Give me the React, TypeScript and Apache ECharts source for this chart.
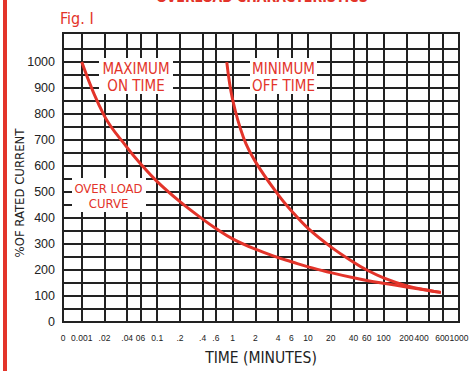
import React, { useEffect, useRef } from "react";
import * as echarts from "echarts";

// ---- data ----
const xTickTimes = [0.01, 0.02, 0.04, 0.06, 0.1, 0.2, 0.4, 0.6, 1, 2, 4, 6, 10, 20, 40, 60, 100, 200, 400, 600, 1000];
const xTickLabels = ["0.001", ".02", ".04", "06", "0.1", ".2", ".4", ".6", "1", "2", "4", "6", "10", "20", "40", "60", "100", "200", "400", "600", "1000"];
// where each tick label sits along the axis (the "400" label is set a little left of its line in the reference)
const xLabelTimes = [0.01, 0.02, 0.04, 0.06, 0.1, 0.2, 0.4, 0.6, 1, 2, 4, 6, 10, 20, 40, 60, 100, 200, 320, 600, 1000];
const xOriginLabel = "0";
const xOriginTime = 0.00564;
const yTop = 1112;
const yGridValues = [0, 50, 100, 150, 200, 250, 300, 350, 400, 450, 500, 550, 600, 650, 700, 750, 800, 850, 900, 950, 1000, 1050];
const yLabelValues = [0, 100, 200, 300, 400, 500, 600, 700, 800, 900, 1000];

const overloadTime = [0.01, 0.02, 0.04, 0.06, 0.1, 0.2, 0.4, 0.6, 1, 2, 4, 6, 10, 20, 40, 60, 100, 200, 400, 575];
const overloadPct = [1000, 792, 671, 609, 540, 463, 396, 360, 320, 280, 248, 232, 212, 190, 170, 160, 149, 135, 121, 114];

const offTime = [0.836, 1, 1.39, 2, 4, 6, 10, 20, 40, 60, 100, 200, 400, 575];
const offPct = [1000, 855, 710, 617, 490, 428, 360, 289, 230, 200, 170, 140, 121, 114];

const RED = "#e3342a";
const INK = "#222";
const CAPS = "'DejaVu Sans Condensed', 'DejaVu Sans', sans-serif";
const DIGITS = "'Liberation Sans', Arial, sans-serif";

const lg = (t: number) => Math.log10(t);

export default function App() {
  const ref = useRef<HTMLDivElement>(null);
  useEffect(() => {
    if (!ref.current) return;
    const chart = echarts.init(ref.current, undefined, { renderer: "svg" });
    const xMin = lg(xOriginTime);
    const xMax = lg(1000);
    const xGrid = [xMin, ...xTickTimes.map(lg)];
    const xLabPos = [xMin, ...xLabelTimes.map(lg)];
    const xLabAll = [xOriginLabel, ...xTickLabels];
    const fmtX = (v: number) => {
      for (let i = 0; i < xLabPos.length; i++)
        if (Math.abs(xLabPos[i] - v) < 1e-6) return xLabAll[i];
      return "";
    };
    const curve = (ts: number[], ps: number[]) => ts.map((t, i) => [lg(t), ps[i]]);
    const labelBox = (x: number, y: number, w: number, h: number) => ({
      type: "rect", z: 10, shape: { x, y, width: w, height: h }, style: { fill: "#fff" },
    });
    const label = (text: string, x: number, y: number, size: number) => ({
      type: "text", x, y, z: 11,
      style: { text, fill: RED, font: `${size}px ${CAPS}`, align: "center", verticalAlign: "middle" },
    });
    chart.setOption({
      animation: false,
      backgroundColor: "#fff",
      grid: {
        left: 63, right: 13, top: 33, bottom: 46,
        show: true, borderColor: INK, borderWidth: 2, backgroundColor: "transparent",
      },
      xAxis: {
        type: "value",
        min: xMin,
        max: xMax,
        axisLine: { show: true, lineStyle: { color: INK, width: 2 } },
        axisTick: { show: false, customValues: xGrid },
        splitLine: { show: true, lineStyle: { color: INK, width: 2 } },
        axisLabel: {
          customValues: xLabPos,
          formatter: fmtX,
          fontFamily: DIGITS,
          fontSize: 8.5,
          color: INK,
          margin: 11,
          showMinLabel: true,
          showMaxLabel: true,
        },
        name: "TIME (MINUTES)",
        nameLocation: "middle",
        nameGap: 28,
        nameTextStyle: { fontFamily: CAPS, fontSize: 15.5, color: INK },
      },
      yAxis: {
        type: "value",
        min: 0,
        max: yTop,
        axisLine: { show: true, lineStyle: { color: INK, width: 2 } },
        axisTick: { show: false, customValues: [...yGridValues, yTop] },
        splitLine: { show: true, lineStyle: { color: INK, width: 2 } },
        axisLabel: {
          customValues: yLabelValues,
          formatter: (v: number) => String(v),
          fontFamily: DIGITS,
          fontSize: 12.5,
          color: INK,
          margin: 8,
        },
      },
      series: [
        {
          type: "line",
          data: curve(overloadTime, overloadPct),
          smooth: 0.4,
          showSymbol: false,
          lineStyle: { color: RED, width: 3 },
          z: 5,
        },
        {
          type: "line",
          data: curve(offTime, offPct),
          smooth: 0.4,
          showSymbol: false,
          lineStyle: { color: RED, width: 3 },
          z: 5,
        },
      ],
      graphic: [
        { type: "rect", shape: { x: 3, y: 0, width: 4, height: 371 }, style: { fill: RED } },
        {
          type: "text", x: 262, y: 4, z: 10,
          style: { text: "OVERLOAD CHARACTERISTICS", fill: RED, font: `bold 14px ${CAPS}`, align: "center", verticalAlign: "bottom" },
        },
        {
          type: "text", x: 60, y: 18, z: 10,
          style: { text: "Fig. I", fill: RED, font: `16px ${CAPS}`, align: "left", verticalAlign: "middle" },
        },
        {
          type: "text", x: 19, y: 193, rotation: Math.PI / 2, z: 10,
          style: { text: "%OF RATED CURRENT", fill: INK, font: `13px ${CAPS}`, align: "center", verticalAlign: "middle" },
        },
        labelBox(99, 58, 74, 36),
        label("MAXIMUM", 136, 69, 15),
        label("ON TIME", 136, 85.5, 15),
        labelBox(250, 58, 67, 36),
        label("MINIMUM", 283.5, 69, 15),
        label("OFF TIME", 283.5, 85.5, 15),
        labelBox(72, 178, 74, 34),
        label("OVER LOAD", 108.5, 188, 13),
        label("CURVE", 108.5, 203, 13),
      ],
    });
    return () => chart.dispose();
  }, []);
  return (
    <div
      ref={ref}
      style={{ position: "absolute", left: 0, top: 0, width: 472, height: 371, background: "#fff" }}
    />
  );
}
